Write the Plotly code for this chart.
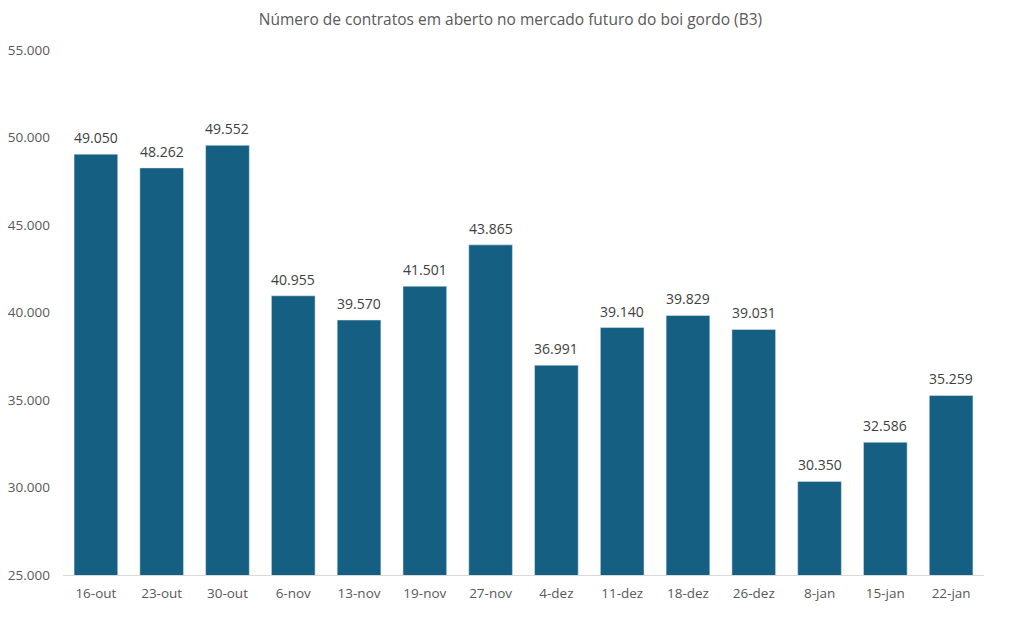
import plotly.graph_objects as go

categories = ["16-out", "23-out", "30-out", "6-nov", "13-nov", "19-nov", "27-nov",
              "4-dez", "11-dez", "18-dez", "26-dez", "8-jan", "15-jan", "22-jan"]
values = [49050, 48262, 49552, 40955, 39570, 41501, 43865,
          36991, 39140, 39829, 39031, 30350, 32586, 35259]
tick_vals = [25000, 30000, 35000, 40000, 45000, 50000, 55000]
tick_text = ["25.000", "30.000", "35.000", "40.000", "45.000", "50.000", "55.000"]
labels = [f"{v:,}".replace(",", ".") for v in values]

font_fam = "Open Sans, Lato, sans-serif"
grey = "#595959"

fig = go.Figure(go.Bar(
    x=categories, y=values,
    marker=dict(color="#156082"),
))
for c, v, t in zip(categories, values, labels):
    fig.add_annotation(x=c, y=v, text=t, showarrow=False, yanchor="bottom", yshift=5,
                       font=dict(size=14, color="#404040", family=font_fam))
fig.update_layout(
    width=1011, height=629,
    margin=dict(l=55, r=35, t=42, b=62, autoexpand=False),
    paper_bgcolor="white", plot_bgcolor="white",
    bargap=0.336,
    title=dict(text="Número de contratos em aberto no mercado futuro do boi gordo (B3)",
               x=0.497, xanchor="center", yref="container", y=1 - 12 / 629, yanchor="middle",
               font=dict(size=15.5, color=grey, family=font_fam)),
    font=dict(family=font_fam, color=grey),
    showlegend=False,
)
fig.update_yaxes(range=[25000, 55000], tickvals=tick_vals, ticktext=tick_text,
                 showgrid=False, zeroline=False, showline=False, automargin=False,
                 tickfont=dict(size=13.5, color=grey), ticks="", ticklabelstandoff=12)
fig.update_xaxes(showline=True, linecolor="#d9d9d9", linewidth=1, ticks="", automargin=False,
                 tickfont=dict(size=13.5, color=grey), ticklabelstandoff=6)
fig.write_html("out.html")
